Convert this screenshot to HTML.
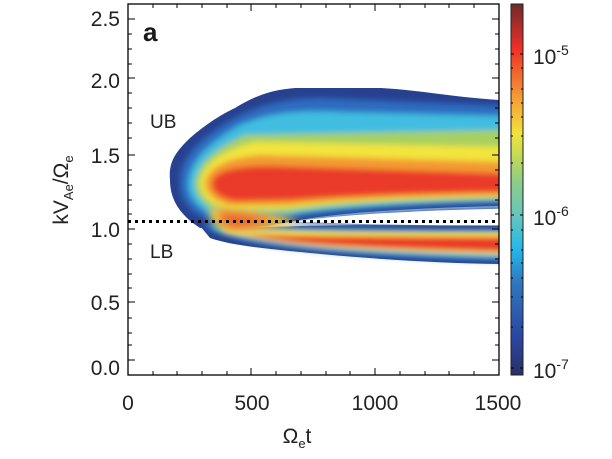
<!DOCTYPE html>
<html><head><style>
html,body{margin:0;padding:0;background:#fff;}
svg{display:block;font-family:"Liberation Sans",Arial,sans-serif;}
</style></head><body>
<svg width="612" height="459" viewBox="0 0 612 459">
<defs>
<filter id="b" x="-10%" y="-30%" width="120%" height="160%"><feGaussianBlur stdDeviation="3"/></filter>
<filter id="b2" x="-30%" y="-60%" width="160%" height="220%"><feGaussianBlur stdDeviation="4"/></filter>
<clipPath id="c"><rect x="128" y="4" width="371" height="371"/></clipPath>
<linearGradient id="cb" x1="0" y1="1" x2="0" y2="0">
<stop offset="0" stop-color="#2b2f66"/>
<stop offset="0.1" stop-color="#2b46a0"/>
<stop offset="0.25" stop-color="#2f78c0"/>
<stop offset="0.34" stop-color="#23b8ea"/>
<stop offset="0.43" stop-color="#66c6bb"/>
<stop offset="0.52" stop-color="#8ccc88"/>
<stop offset="0.6" stop-color="#c8dc50"/>
<stop offset="0.65" stop-color="#f0e43c"/>
<stop offset="0.75" stop-color="#f59a34"/>
<stop offset="0.88" stop-color="#ee3028"/>
<stop offset="1" stop-color="#6e2a2a"/>
</linearGradient>
</defs>
<g clip-path="url(#c)">
<path fill="#27418f" d="M170,180 C168,160 178,150 190,138 C205,125 220,115 235,108 C255,96 270,90 295,88 L380,88 C420,90 450,97 499,100 L499,206 C420,208 340,212 295,221 C270,226 250,228 230,226 L200,228 C180,215 170,200 170,180 Z"/>
<path fill="#27418f" d="M192,216 C215,230 240,228 300,226 C380,224 440,226 499,226 L499,264 C430,263 360,258 300,252 C260,248 230,245 210,238 Z"/>
<g filter="url(#b)">
<path fill="#2d6cc0" d="M180,182 C180,160 195,140 235,118 C260,104 290,98 320,98 L510,106 L510,203 C420,205 340,210 290,218 L215,222 C190,215 180,200 180,182 Z"/>
<path fill="#40bde0" d="M188,183 C190,162 205,145 240,125 C270,112 300,110 340,112 L510,116 L510,201 C420,203 340,207 290,215 L220,218 C198,210 188,198 188,183 Z"/>
<path fill="#a8d060" d="M195,183 C197,165 212,150 245,135 L510,130 L510,199 C420,200 340,204 290,212 L225,214 C205,207 195,197 195,183 Z"/>
<path fill="#f2e43c" d="M200,183 C202,166 218,152 255,142 L510,147 L510,197 C420,198 340,201 290,208 L228,210 C210,204 200,195 200,183 Z"/>
<path fill="#f39a32" d="M205,183 C207,168 225,158 260,155 L510,162 L510,195 C420,196 340,199 290,205 L230,206 C214,201 205,193 205,183 Z"/>
<path fill="#ea3a2a" d="M212,183 C214,172 232,166 270,166 L510,174 L510,192 C420,193 340,196 290,200 L235,201 C220,198 212,192 212,183 Z"/>
<path fill="#2d6cc0" d="M205,222 C240,226 300,229 510,229 L510,261 C420,259 340,254 300,249 C260,245 230,240 205,228 Z"/>
<path fill="#40bde0" d="M212,224 C245,228 300,230.5 510,230.5 L510,258 C420,256 340,252 300,247 C262,243 240,238 215,230 Z"/>
<path fill="#f2e43c" d="M222,226 C250,230 300,232 510,232 L510,255 C420,253 340,249 300,245 C265,241 245,237 225,231 Z"/>
<path fill="#ea3a2a" d="M240,233 C270,236 310,236 510,237 L510,252 C420,250 340,247 300,243 C275,240 258,238 240,233 Z"/>
</g>
<path filter="url(#b2)" fill="#f0c43a" d="M210,208 C240,208 275,214 300,221 C275,228 250,232 228,232 C215,228 208,220 210,208 Z"/>
<path filter="url(#b2)" fill="#ee6a2e" d="M220,212 C240,212 260,216 275,221 C258,226 245,228 232,228 C222,224 218,218 220,212 Z"/>
<path fill="#2a5aa8" filter="url(#b)" d="M288,222 C330,213 420,208 510,206 L510,227 C430,228 360,226 288,222 Z"/>
<path fill="#fff" d="M296,221.5 C335,215 420,210 510,208.5 L510,225 C430,226 360,224.5 296,221.5 Z"/>
</g>
<line x1="128" y1="221.5" x2="499" y2="221.5" stroke="#000" stroke-width="3" stroke-dasharray="3,4"/>
<rect x="128" y="4" width="371" height="371" fill="none" stroke="#000" stroke-width="1.3"/>
<g stroke="#000" stroke-width="1">
<path d="M128,19h7M128,34h4M128,49h4M128,64h4M128,78h7M128,93h4M128,108h4M128,123h4M128,138h4M128,155h7M128,170h4M128,185h4M128,200h4M128,214h4M128,229h7M128,244h4M128,259h4M128,274h4M128,288h4M128,302h7M128,318h4M128,333h4M128,345h4M128,360h7"/>
<path d="M499,19h-7M499,34h-4M499,49h-4M499,64h-4M499,78h-7M499,93h-4M499,108h-4M499,123h-4M499,138h-4M499,155h-7M499,170h-4M499,185h-4M499,200h-4M499,214h-4M499,229h-7M499,244h-4M499,259h-4M499,274h-4M499,288h-4M499,302h-7M499,318h-4M499,333h-4M499,345h-4M499,360h-7"/>
<path d="M153,375v-4M177,375v-4M202,375v-4M227,375v-4M251,375v-7M276,375v-4M301,375v-4M326,375v-4M350,375v-4M375,375v-7M400,375v-4M425,375v-4M449,375v-4M474,375v-4"/>
<path d="M153,4v4M177,4v4M202,4v4M227,4v4M251,4v7M276,4v4M301,4v4M326,4v4M350,4v4M375,4v7M400,4v4M425,4v4M449,4v4M474,4v4"/>
</g>
<rect x="511" y="4" width="12" height="371" fill="url(#cb)" stroke="#222" stroke-width="1"/>
<g stroke="#000" stroke-width="1">
<path d="M511,54h3M511,68h2M511,89h2M511,103h2M511,117h2M511,136h2M511,163h2M511,215h3M511,230h2M511,250h2M511,263h2M511,278h2M511,297h2M511,327h2M511,368h3"/>
<path d="M523,54h-3M523,68h-2M523,89h-2M523,103h-2M523,117h-2M523,136h-2M523,163h-2M523,215h-3M523,230h-2M523,250h-2M523,263h-2M523,278h-2M523,297h-2M523,327h-2M523,368h-3"/>
</g>
<g font-size="21" fill="#222">
<g text-anchor="end">
<text x="120" y="26">2.5</text>
<text x="120" y="88">2.0</text>
<text x="120" y="163">1.5</text>
<text x="120" y="237">1.0</text>
<text x="120" y="310">0.5</text>
<text x="120" y="375">0.0</text>
</g>
<g text-anchor="middle">
<text x="128" y="410">0</text>
<text x="252" y="410">500</text>
<text x="375" y="410">1000</text>
<text x="498" y="410">1500</text>
</g>
<text x="533" y="64">10<tspan font-size="14" dy="-9">-5</tspan></text>
<text x="533" y="225">10<tspan font-size="14" dy="-9">-6</tspan></text>
<text x="533" y="378">10<tspan font-size="14" dy="-9">-7</tspan></text>
<text x="150" y="128" font-size="19">UB</text>
<text x="150" y="258" font-size="19">LB</text>
<text x="143" y="41" font-size="26" font-weight="bold" fill="#1a1a1a">a</text>
<text x="297" y="443" text-anchor="middle">Ω<tspan font-size="13" dy="5">e</tspan><tspan dy="-5">t</tspan></text>
<text transform="translate(68,190) rotate(-90)" text-anchor="middle">kV<tspan font-size="13" dy="5">Ae</tspan><tspan dy="-5">/Ω</tspan><tspan font-size="13" dy="5">e</tspan></text>
</g>
</svg>
</body></html>
